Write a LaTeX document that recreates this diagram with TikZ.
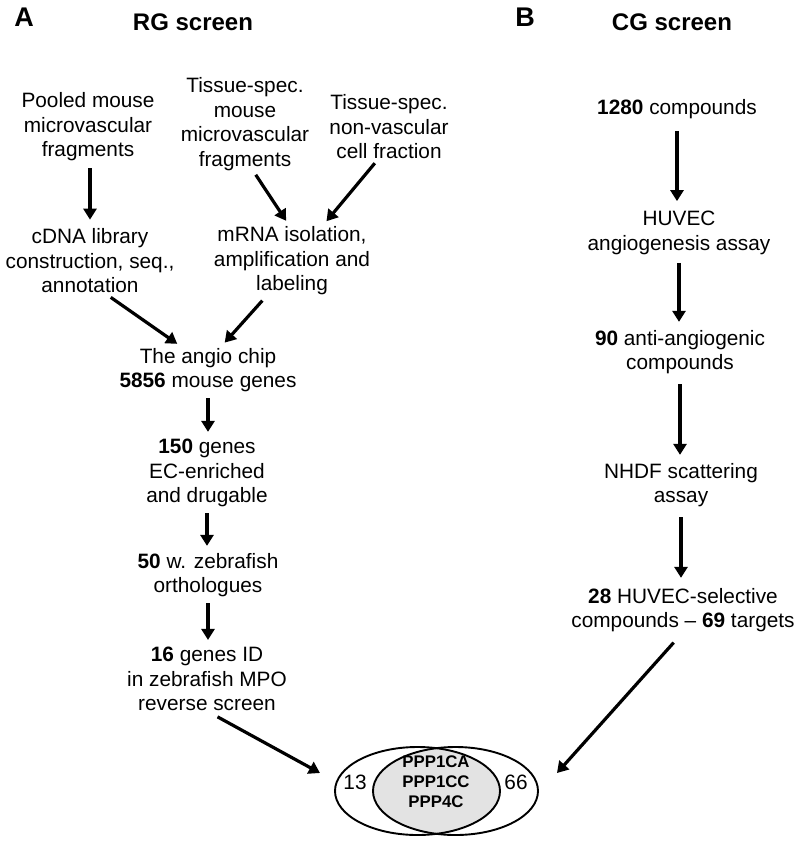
\documentclass[tikz,border=0pt]{standalone}
\usepackage{fontspec}
\setmainfont{Liberation Sans}
\usetikzlibrary{arrows.meta,shapes.geometric}
\tikzset{
  txt/.style={align=center,inner sep=0pt,font=\fontsize{20.8}{24.5}\selectfont},
  ttl/.style={inner sep=0pt,font=\fontsize{24}{28}\selectfont\bfseries},
  lbl/.style={inner sep=0pt,font=\fontsize{27}{30}\selectfont\bfseries},
  arr/.style={line width=3.2pt,-{Triangle[width=13pt,length=11pt]}},
  vset/.style={ellipse,draw,line width=1.9pt,minimum width=165pt,minimum height=88pt,inner sep=0pt},
}
\begin{document}
\begin{tikzpicture}[x=1pt,y=-1pt]
\useasboundingbox (0,0) rectangle (800,841);
% headings
\node[lbl] (A) at (24,17) {A};
\node[ttl] (rgt) at (193,22) {RG screen};
\node[lbl] (B) at (525,17) {B};
\node[ttl] (cgt) at (672,22) {CG screen};
% RG column
\node[txt] (pooled) at (88,127) {Pooled mouse\\microvascular\\fragments};
\node[txt] (tsm) at (245,124) {Tissue-spec.\\mouse\\microvascular\\fragments};
\node[txt] (tsn) at (389,127) {Tissue-spec.\\non-vascular\\cell fraction};
\node[txt] (cdna) at (90,261) {cDNA library\\construction, seq.,\\annotation};
\node[txt] (mrna) at (292,261) {mRNA isolation,\\amplification and\\labeling};
\node[txt] (chip) at (208,370) {The angio chip\\\textbf{5856} mouse genes};
\node[txt] (g150) at (207,473) {\textbf{150} genes\\EC-enriched\\and drugable};
\node[txt] (g50) at (208,575) {\textbf{50} w. zebrafish\\orthologues};
\node[txt] (g16) at (207,679) {\textbf{16} genes ID\\in zebrafish MPO\\reverse screen};
% CG column
\node[txt] (c1280) at (677,109) {\textbf{1280} compounds};
\node[txt] (huvec) at (679,233) {HUVEC\\angiogenesis assay};
\node[txt] (c90) at (680,352) {\textbf{90} anti-angiogenic\\compounds};
\node[txt] (nhdf) at (681,485) {NHDF scattering\\assay};
\node[txt] (c28) at (683,610) {\textbf{28} HUVEC-selective\\compounds -- \textbf{69} targets};
% Venn
\begin{scope}
  \clip (417.5,791) ellipse (82.5 and 44);
  \fill[black!11] (455.5,791) ellipse (82.5 and 44);
\end{scope}
\node[vset] (vl) at (417.5,791) {};
\node[vset] (vr) at (455.5,791) {};
\node[align=center,inner sep=0pt,font=\fontsize{16.8}{20}\selectfont\bfseries] (both) at (436,782) {PPP1CA\\PPP1CC\\PPP4C};
\node[txt] (n13) at (355,782) {13};
\node[txt] (n66) at (516,782) {66};
\coordinate (tipL) at (320,773);
\coordinate (tipR) at (557,773);
% arrows RG
\draw[arr,shorten <=7pt,shorten >=9pt] ([xshift=2pt]pooled.south) -- ([xshift=2pt]pooled.south |- cdna.north);
\draw[arr,shorten <=5pt,shorten >=7pt] ([xshift=8pt]tsm.south) -- ([xshift=-2pt]mrna.north);
\draw[arr,shorten <=5pt,shorten >=7pt] ([xshift=-11pt]tsn.south) -- ([xshift=30pt]mrna.north);
\draw[arr,shorten <=7pt,shorten >=7pt] ([xshift=15pt]cdna.south) -- ([xshift=-25pt]chip.north);
\draw[arr,shorten <=7pt,shorten >=7pt] ([xshift=-25pt]mrna.south) -- ([xshift=12pt]chip.north);
\draw[arr,shorten <=6pt,shorten >=7pt] (chip.south) -- (chip.south |- g150.north);
\draw[arr,shorten <=6pt,shorten >=7pt] (g150.south) -- (g150.south |- g50.north);
\draw[arr,shorten <=6pt,shorten >=7pt] (g50.south) -- (g50.south |- g16.north);
\draw[arr,shorten <=12pt] (g16.south) -- (tipL);
% arrows CG
\draw[arr,shorten <=12pt,shorten >=10pt] (c1280.south) -- (c1280.south |- huvec.north);
\draw[arr,shorten <=8pt,shorten >=8pt] (huvec.south) -- (huvec.south |- c90.north);
\draw[arr,shorten <=10pt,shorten >=8pt] (c90.south) -- (c90.south |- nhdf.north);
\draw[arr,shorten <=10pt,shorten >=10pt] (nhdf.south) -- (nhdf.south |- c28.north);
\draw[arr,shorten <=14pt] (c28.south) -- (tipR);
\end{tikzpicture}
\end{document}
